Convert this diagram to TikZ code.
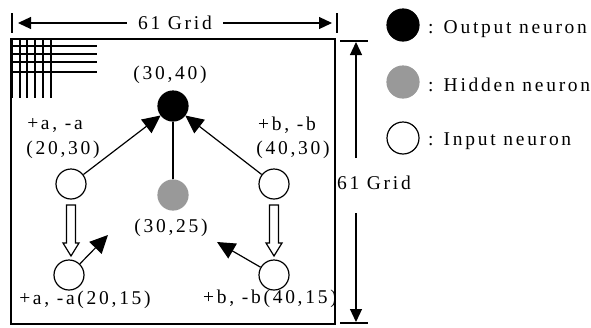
\documentclass[tikz,border=0pt]{standalone}
\usepackage{fontspec}
\setmainfont{Liberation Serif}[LetterSpace=14]
\usepackage{xcolor}
\usetikzlibrary{arrows.meta, positioning}
\definecolor{hiddengray}{RGB}{153,153,153}
% hollow block arrow pointing down: x, top y, tip y
\newcommand{\hollowdown}[3]{%
  \draw[line width=1.2pt, fill=white] (#1-4.5,#2) -- (#1+4.5,#2) -- (#1+4.5,#3-13) -- (#1+8,#3-13)
    -- (#1,#3) -- (#1-8,#3-13) -- (#1-4.5,#3-13) -- cycle;}

\begin{document}
\begin{tikzpicture}[
    x=1pt, y=-1pt,
    neuron/.style={circle, draw=black, line width=1.2pt, minimum size=30pt, inner sep=0pt},
    outneuron/.style={neuron, fill=black},
    hidneuron/.style={neuron, draw=hiddengray, fill=hiddengray},
    inneuron/.style={neuron, fill=white},
    lbl/.style={font=\fontsize{19.5}{23}\selectfont, inner sep=0pt},
    arrow/.style={-{Triangle[length=18pt, width=17pt]}, line width=1.2pt},
    dimarrow/.style={-{Triangle[length=13pt, width=12pt]}, line width=1.2pt},
    gridline/.style={line width=1.3pt}
]
    \useasboundingbox (0,0) rectangle (591,327);

    % grid frame
    \draw[line width=1.5pt] (11,39) rectangle (335,324);
    \foreach \gx in {12,20,27,35,43,51}
        \draw[gridline] (\gx,39) -- (\gx,98);
    \foreach \gy in {46,54,62,72}
        \draw[gridline] (11,\gy) -- (97,\gy);

    % dimensions
    \draw[gridline] (12,13) -- (12,33);
    \draw[gridline] (337,13) -- (337,33);
    \node[lbl, inner xsep=11pt] (hDim) at (175,23) {61 Grid};
    \coordinate (hEndL) at (18,23);
    \coordinate (hEndR) at (332,23);
    \draw[dimarrow] (hDim) -- (hEndL);
    \draw[dimarrow] (hDim) -- (hEndR);

    \draw[gridline] (340,41) -- (368,41);
    \draw[gridline] (340,323) -- (368,323);
    \node[lbl] (vDim) at (374,183) {61 Grid};
    \coordinate (vStartU) at (356,158);
    \coordinate (vEndU) at (356,42);
    \coordinate (vStartD) at (356,213);
    \coordinate (vEndD) at (356,322);
    \draw[dimarrow] (vStartU) -- (vEndU);
    \draw[dimarrow] (vStartD) -- (vEndD);

    % neurons
    \node[outneuron] (out) at (173,106) {};
    \node[hidneuron] (hid) at (173,195) {};
    \node[inneuron] (inL) at (71,184) {};
    \node[inneuron] (inR) at (274,184) {};
    \node[inneuron] (inLL) at (69,275) {};
    \node[inneuron] (inLR) at (274,275) {};

    \node[lbl] (outLbl) at (170,75) {(30,40)};
    \node[lbl] (hidLbl) at (171,228) {(30,25)};
    \node[lbl] (inLMove) at (55,125) {+a, -a};
    \node[lbl] (inLLbl) at (63,150) {(20,30)};
    \node[lbl] (inRMove) at (287,125) {+b, -b};
    \node[lbl] (inRLbl) at (293,150) {(40,30)};
    \node[lbl] (inLLLbl) at (85,300) {+a, -a(20,15)};
    \node[lbl] (inLRLbl) at (270,299) {+b, -b(40,15)};

    % connections
    \draw[arrow] (inL) -- (out);
    \draw[arrow] (inR) -- (out);
    \draw[line width=1.2pt] (hid) -- (out);
    \coordinate (llTip) at (108,235);
    \coordinate (lrTip) at (217,242);
    \draw[arrow] (inLL) -- (llTip);
    \draw[arrow] (inLR) -- (lrTip);
    \hollowdown{71}{205}{256}
    \hollowdown{274}{205}{256}

    % legend
    \node[outneuron, minimum size=32pt] (legOut) at (403,25) {};
    \node[hidneuron, minimum size=32pt] (legHid) at (403,82) {};
    \node[inneuron, minimum size=32pt] (legIn) at (403,138) {};
    \node[lbl, anchor=west] at (428,29) {: Output neuron};
    \node[lbl, anchor=west] at (428,85) {: Hidden neuron};
    \node[lbl, anchor=west] at (428,141) {: Input neuron};
\end{tikzpicture}
\end{document}
